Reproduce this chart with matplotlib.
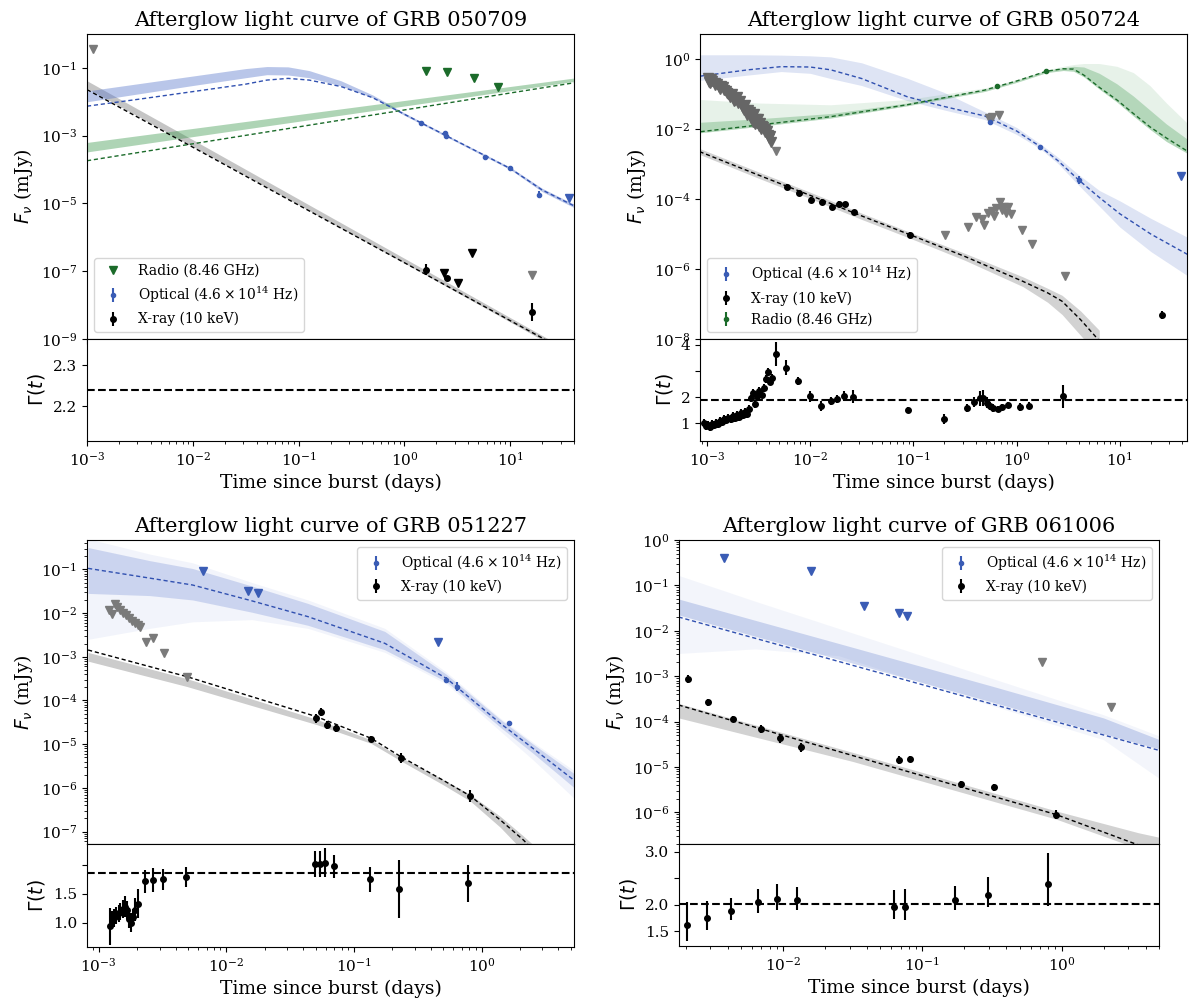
import numpy as np
import matplotlib
matplotlib.use("Agg")
import matplotlib.pyplot as plt
from matplotlib.ticker import FixedLocator, NullLocator, NullFormatter, FormatStrFormatter

plt.rcParams['font.family'] = ['DejaVu Serif']
plt.rcParams['mathtext.fontset'] = 'dejavusans'

BLUE = '#3a5cb5'
BLUE_BAND = '#5a78cc'
GREEN = '#1b6b2a'
GREEN_BAND = '#3f9a50'
GRAY = '#7a7a7a'

# ---------------------------------------------------------------- GRB 050709
p1_title = 'Afterglow light curve of GRB 050709'
p1_radio_ul_t = [1.61, 2.52, 4.56, 7.66]
p1_radio_ul_f = [0.080, 0.078, 0.050, 0.0275]
p1_opt_t = [1.44, 2.42, 2.47, 5.77, 9.84, 18.8]
p1_opt_f = [2.4e-3, 1.2e-3, 9.6e-4, 2.35e-4, 1.11e-4, 1.82e-5]
p1_opt_err = [0.03, 0.05, 0.05, 0.03, 0.03, 0.10]
p1_opt_ul_t = [35.6]
p1_opt_ul_f = [1.48e-5]
p1_xray_t = [1.61, 2.50, 16.2]
p1_xray_f = [1.1e-7, 6.3e-8, 6.2e-9]
p1_xray_err = [0.16, 0.04, 0.26]
p1_xray_ul_t = [2.38, 3.24, 4.34]
p1_xray_ul_f = [8.9e-8, 4.5e-8, 3.44e-7]
p1_other_ul_t = [1.13e-3, 16.2]
p1_other_ul_f = [0.35, 7.9e-8]
p1_yticks = [1e-9, 1e-7, 1e-5, 1e-3, 1e-1]
# models (log10 t, log10 F)
p1_x_lt = [-3.0, -2.0, -1.0, 0.0, 1.0, 1.602]
p1_x_best = [-1.64, -3.34, -5.05, -6.75, -8.46, -9.48]
p1_x_hi = [-1.38, -3.12, -4.87, -6.62, -8.37, -9.42]
p1_x_lo = [-1.60, -3.32, -5.04, -6.76, -8.50, -9.55]
p1_o_lt = [-3.0, -2.5, -2.0, -1.5, -1.3, -1.1, -0.9, -0.6, -0.3, 0.0, 0.5, 1.0, 1.3, 1.602]
p1_o_best = [-2.13, -1.92, -1.70, -1.48, -1.36, -1.31, -1.36, -1.55, -1.88, -2.37, -3.17, -3.97, -4.60, -5.07]
p1_o_hi = [-1.68, -1.46, -1.24, -1.02, -0.96, -0.97, -1.08, -1.38, -1.80, -2.33, -3.14, -3.93, -4.55, -5.02]
p1_o_lo = [-2.00, -1.76, -1.52, -1.29, -1.20, -1.21, -1.29, -1.53, -1.88, -2.40, -3.20, -4.00, -4.65, -5.12]
p1_r_lt = [-3.0, 1.602]
p1_r_best = [-3.74, -1.44]
p1_r_hi = [-3.20, -1.30]
p1_r_lo = [-3.48, -1.40]
p1_gamma = 2.24

# ---------------------------------------------------------------- GRB 050724
p2_title = 'Afterglow light curve of GRB 050724'
p2_cloud_lt = [-2.990, -2.972, -2.946, -2.916, -2.886, -2.860, -2.834, -2.804, -2.774,
               -2.748, -2.722, -2.693, -2.663, -2.637, -2.611, -2.589, -2.570, -2.551,
               -2.536, -2.514, -2.495, -2.477, -2.451, -2.432, -2.410, -2.395, -2.376,
               -2.980, -2.955, -2.925, -2.900, -2.870, -2.845, -2.815, -2.790, -2.760,
               -2.735, -2.705, -2.680, -2.650, -2.625, -2.600, -2.580, -2.560, -2.545,
               -2.525, -2.505, -2.485, -2.465, -2.440, -2.420, -2.385]
p2_cloud_lf = [-0.543, -0.686, -0.610, -0.733, -0.800, -0.762, -0.876, -0.952, -1.067,
               -1.114, -1.162, -1.257, -1.333, -1.448, -1.590, -1.543, -1.686, -1.781,
               -1.848, -1.810, -1.905, -2.000, -1.943, -2.067, -2.162, -2.257, -2.352,
               -0.640, -0.560, -0.690, -0.700, -0.860, -0.780, -0.900, -1.000, -0.990,
               -1.200, -1.080, -1.200, -1.380, -1.300, -1.450, -1.500, -1.620, -1.560,
               -1.720, -1.700, -1.820, -1.900, -1.990, -2.050, -2.200]
p2_other_ul_lt = [-2.328, -0.690, -0.467, -0.392, -0.336, -0.317, -0.273, -0.243, -0.217,
                  -0.198, -0.161, -0.142, -0.124, -0.105, -0.079, -0.057, 0.055, 0.144,
                  0.472, -0.265, -0.243, -0.168]
p2_other_ul_lf = [-2.619, -5.038, -4.810, -4.514, -4.562, -4.733, -4.400, -4.333, -4.495,
                  -4.257, -4.067, -4.305, -4.210, -4.400, -4.229, -4.419, -4.876, -5.276,
                  -6.190, -1.686, -1.638, -1.590]
p2_opt_lt = [-0.255, 0.230, 0.602]
p2_opt_lf = [-1.781, -2.495, -3.448]
p2_opt_err = [0.05, 0.05, 0.12]
p2_opt_ul_lt = [1.589]
p2_opt_ul_lf = [-3.324]
p2_radio_lt = [-0.187, 0.286]
p2_radio_lf = [-0.752, -0.324]
p2_radio_err = [0.05, 0.03]
p2_xray_lt = [-2.220, -2.108, -1.993, -1.885, -1.792, -1.724, -1.661, -1.576, -1.028, 1.410]
p2_xray_lf = [-3.638, -3.829, -4.019, -4.076, -4.210, -4.133, -4.152, -4.371, -5.019, -7.305]
p2_xray_err = [0.06, 0.06, 0.08, 0.07, 0.08, 0.08, 0.08, 0.06, 0.08, 0.12]
p2_yticks = [1e-8, 1e-6, 1e-4, 1e-2, 1e0]
p2_x_lt = [-3.07, -2.5, -2.0, -1.5, -1.03, -0.5, 0.06, 0.30, 0.44, 0.62, 0.80]
p2_x_best = [-2.64, -3.31, -3.89, -4.48, -5.02, -5.64, -6.35, -6.68, -6.92, -7.45, -8.05]
p2_x_hi = [-2.55, -3.22, -3.80, -4.40, -4.95, -5.55, -6.22, -6.55, -6.75, -7.20, -7.75]
p2_x_lo = [-2.72, -3.40, -3.98, -4.58, -5.12, -5.75, -6.50, -6.95, -7.30, -7.90, -8.50]
p2_o_lt = [-3.06, -2.6, -2.28, -2.0, -1.8, -1.5, -1.06, -0.7, -0.31, 0.0, 0.23, 0.40, 0.60, 0.80, 1.0, 1.3, 1.66]
p2_o_best = [-0.48, -0.30, -0.21, -0.22, -0.30, -0.55, -1.07, -1.35, -1.62, -2.05, -2.50, -2.90, -3.45, -3.95, -4.42, -5.00, -5.59]
p2_o_hi = [0.13, 0.13, 0.12, 0.10, 0.07, -0.10, -0.54, -0.95, -1.50, -1.95, -2.42, -2.80, -3.30, -3.75, -4.05, -4.55, -5.10]
p2_o_lo = [-0.60, -0.45, -0.35, -0.40, -0.55, -0.75, -1.18, -1.45, -1.72, -2.15, -2.56, -2.98, -3.60, -4.20, -4.80, -5.50, -6.20]
p2_r_lt = [-3.06, -2.5, -1.8, -1.06, -0.31, 0.0, 0.29, 0.45, 0.55, 0.65, 0.80, 0.97, 1.13, 1.29, 1.45, 1.66]
p2_r_best = [-2.07, -1.88, -1.64, -1.30, -0.88, -0.62, -0.34, -0.27, -0.28, -0.45, -0.80, -1.16, -1.55, -1.93, -2.25, -2.64]
p2_r_hi = [-1.15, -1.25, -1.30, -1.15, -0.82, -0.58, -0.30, -0.20, -0.15, -0.12, -0.12, -0.20, -0.38, -0.75, -1.25, -1.85]
p2_r_lo = [-2.10, -1.92, -1.68, -1.33, -0.92, -0.66, -0.38, -0.32, -0.34, -0.50, -0.85, -1.22, -1.62, -2.00, -2.35, -2.70]
p2_r_chi = [-1.80, -1.70, -1.55, -1.25, -0.86, -0.60, -0.32, -0.24, -0.20, -0.22, -0.40, -0.70, -1.05, -1.45, -1.85, -2.30]
p2_g_lt = [-3.03, -3.01, -2.99, -2.97, -2.95, -2.93, -2.91, -2.89, -2.87, -2.85, -2.83, -2.81,
           -2.79, -2.77, -2.75, -2.73, -2.71, -2.69, -2.67, -2.65, -2.63, -2.61, -2.59, -2.57,
           -2.55, -2.53, -2.51, -2.49, -2.47, -2.45, -2.43, -2.41, -2.39, -2.37,
           -2.332, -2.229, -2.116, -2.003, -1.897, -1.800, -1.739, -1.671, -1.584, -1.048,
           -0.703, -0.484, -0.413, -0.355, -0.329, -0.284, -0.258, -0.226, -0.177, -0.145,
           -0.081, 0.032, 0.123, 0.452]
p2_g = [1.00, 0.88, 0.95, 0.85, 0.98, 0.92, 1.02, 0.97, 1.10, 1.05, 1.18, 1.12,
        1.22, 1.15, 1.28, 1.20, 1.32, 1.25, 1.38, 1.30, 1.42, 1.35, 1.55, 1.95,
        2.15, 1.75, 2.05, 2.25, 2.10, 2.35, 2.70, 2.95, 2.60, 2.75,
        3.66, 3.13, 2.61, 2.03, 1.66, 1.84, 1.92, 2.04, 2.01, 1.50,
        1.16, 1.59, 1.82, 1.95, 1.97, 1.79, 1.66, 1.58, 1.55, 1.62,
        1.71, 1.62, 1.68, 2.03]
p2_g_err = [0.15] * 34 + [0.45, 0.28, 0.15, 0.22, 0.20, 0.15, 0.15, 0.20, 0.25, 0.12,
                          0.20, 0.15, 0.20, 0.30, 0.30, 0.20, 0.15, 0.15, 0.12, 0.12,
                          0.12, 0.15, 0.15, 0.45]
p2_gamma = 1.88

# ---------------------------------------------------------------- GRB 051227
p3_title = 'Afterglow light curve of GRB 051227'
p3_opt_ul_lt = [-2.183, -1.827, -1.751, -0.342]
p3_opt_ul_lf = [-1.030, -1.495, -1.549, -2.654]
p3_opt_lt = [-0.276, -0.191, 0.212]
p3_opt_lf = [-3.530, -3.683, -4.521]
p3_opt_err = [0.06, 0.10, 0.05]
p3_other_ul_lt = [-2.917, -2.896, -2.872, -2.857, -2.836, -2.812, -2.788, -2.764, -2.740,
                  -2.716, -2.694, -2.679, -2.631, -2.571, -2.490, -2.309]
p3_other_ul_lf = [-1.930, -2.021, -1.793, -1.869, -1.930, -1.991, -2.052, -2.113, -2.174,
                  -2.235, -2.280, -2.311, -2.654, -2.578, -2.921, -3.454]
p3_xray_lt = [-1.294, -1.255, -1.213, -1.143, -0.866, -0.634, -0.089]
p3_xray_lf = [-4.407, -4.255, -4.559, -4.636, -4.887, -5.322, -6.183]
p3_xray_err = [0.10, 0.09, 0.10, 0.08, 0.07, 0.12, 0.14]
p3_o_lt = [-3.083, -2.6, -2.264, -1.8, -1.360, -0.758, -0.276, 0.146, 0.4, 0.748]
p3_o_best = [-0.977, -1.20, -1.358, -1.72, -2.082, -2.692, -3.492, -4.521, -5.09, -5.878]
p3_o_hi = [-0.50, -0.80, -0.98, -1.38, -1.78, -2.42, -3.40, -4.43, -4.99, -5.72]
p3_o_lo = [-1.55, -1.60, -1.70, -1.98, -2.28, -2.84, -3.57, -4.61, -5.20, -6.05]
p3_o_ohi = [-0.30, -0.65, -0.85, -1.30, -1.70, -2.35, -3.35, -4.40, -4.95, -5.65]
p3_o_olo = [-2.60, -2.35, -2.20, -2.15, -2.35, -2.90, -3.62, -4.70, -5.35, -6.30]
p3_x_lt = [-3.083, -2.309, -1.294, -0.866, -0.634, -0.306, -0.089, 0.146, 0.327, 0.5]
p3_x_best = [-2.845, -3.454, -4.369, -4.864, -5.283, -5.817, -6.183, -6.732, -7.19, -7.70]
p3_x_hi = [-2.90, -3.50, -4.43, -4.90, -5.30, -5.80, -6.15, -6.65, -7.10, -7.55]
p3_x_lo = [-3.10, -3.68, -4.55, -4.98, -5.38, -5.92, -6.30, -6.90, -7.45, -8.00]
p3_g_lt = [-2.914, -2.896, -2.877, -2.862, -2.843, -2.830, -2.812, -2.796, -2.778, -2.762,
           -2.747, -2.731, -2.713, -2.695, -2.634, -2.577, -2.499, -2.319, -1.305, -1.269,
           -1.227, -1.157, -0.877, -0.650, -0.107]
p3_g = [0.94, 1.05, 1.08, 1.12, 1.16, 1.19, 1.24, 1.28, 1.22, 1.06,
        1.00, 1.09, 1.22, 1.33, 1.72, 1.74, 1.75, 1.79, 2.02, 2.02,
        2.04, 1.98, 1.75, 1.58, 1.68]
p3_g_err = [0.32, 0.16, 0.16, 0.15, 0.15, 0.15, 0.16, 0.18, 0.16, 0.15,
            0.16, 0.15, 0.20, 0.25, 0.20, 0.20, 0.18, 0.17, 0.23, 0.22,
            0.25, 0.20, 0.21, 0.50, 0.32]
p3_gamma = 1.87

# ---------------------------------------------------------------- GRB 061006
p4_title = 'Afterglow light curve of GRB 061006'
p4_opt_ul_lt = [-2.427, -1.800, -1.422, -1.168, -1.113]
p4_opt_ul_lf = [-0.402, -0.673, -1.456, -1.602, -1.668]
p4_other_ul_lt = [-0.141, 0.351]
p4_other_ul_lf = [-2.685, -3.687]
p4_xray_lt = [-2.683, -2.537, -2.357, -2.161, -2.020, -1.874, -1.168, -1.088, -0.720, -0.485, -0.041]
p4_xray_lf = [-3.065, -3.577, -3.943, -4.162, -4.374, -4.572, -4.857, -4.828, -5.384, -5.450, -6.050]
p4_xray_err = [0.08, 0.08, 0.07, 0.08, 0.09, 0.09, 0.09, 0.07, 0.07, 0.08, 0.09]
p4_o_lt = [-2.75, -2.2, -1.6, -0.5, 0.3, 0.77]
p4_o_best = [-1.697, -2.166, -2.677, -3.614, -4.296, -4.696]
p4_o_hi = [-1.30, -1.77, -2.28, -3.22, -3.92, -4.48]
p4_o_lo = [-1.65, -2.12, -2.63, -3.57, -4.27, -4.66]
p4_o_ohi = [-0.78, -1.35, -1.95, -3.05, -3.85, -4.40]
p4_o_olo = [-2.50, -2.40, -2.55, -3.65, -4.40, -5.40]
p4_x_lt = [-2.75, -1.5, -0.04, 0.55, 0.70]
p4_x_best = [-3.636, -4.75, -6.05, -6.72, -6.95]
p4_x_hi = [-3.60, -4.68, -5.97, -6.45, -6.55]
p4_x_lo = [-3.92, -4.88, -6.15, -6.80, -7.00]
p4_g_lt = [-2.689, -2.545, -2.371, -2.177, -2.043, -1.897, -1.201, -1.122, -0.763, -0.529, -0.098]
p4_g = [1.62, 1.74, 1.88, 2.04, 2.11, 2.08, 1.96, 1.95, 2.08, 2.19, 2.39]
p4_g_lo = [0.30, 0.22, 0.17, 0.19, 0.22, 0.19, 0.23, 0.25, 0.18, 0.24, 0.42]
p4_g_hi = [0.43, 0.33, 0.24, 0.25, 0.28, 0.26, 0.31, 0.34, 0.27, 0.34, 0.59]
p4_gamma = 2.01

OPT_LABEL = r'Optical ($\mathdefault{4.6\times10^{14}}$ Hz)'
XRAY_LABEL = 'X-ray (10 keV)'
RADIO_LABEL = 'Radio (8.46 GHz)'

TICK_FS = 11
LABEL_FS = 13.5
TITLE_FS = 15
LEGEND_FS = 10

fig = plt.figure(figsize=(12, 10.08), dpi=100)
W, H = 1200.0, 1008.0


def axes_pair(left, right, top, mid, bottom):
    axm = fig.add_axes([left / W, 1 - mid / H, (right - left) / W, (mid - top) / H])
    axg = fig.add_axes([left / W, 1 - bottom / H, (right - left) / W, (bottom - mid) / H], sharex=axm)
    axm.set_xscale('log')
    axm.set_yscale('log')
    axm.tick_params(labelbottom=False, labelsize=TICK_FS)
    axm.yaxis.set_minor_formatter(NullFormatter())
    axg.tick_params(labelsize=TICK_FS)
    axg.tick_params(axis='y', which='minor', length=3.5, width=0.8)
    axg.yaxis.set_minor_formatter(NullFormatter())
    axm.set_ylabel(r'$F_\nu$ (mJy)', fontsize=LABEL_FS)
    axg.set_ylabel(r'$\Gamma(t)$', fontsize=LABEL_FS)
    axg.set_xlabel('Time since burst (days)', fontsize=LABEL_FS)
    return axm, axg


def L(a):
    return 10 ** np.asarray(a, dtype=float)


def model(ax, lt, best, hi, lo, color, band, alpha=0.4, ohi=None, olo=None, oalpha=0.12):
    t = L(lt)
    if ohi is not None:
        ax.fill_between(t, L(olo), L(ohi), color=band, alpha=oalpha, lw=0)
    ax.fill_between(t, L(lo), L(hi), color=band, alpha=alpha, lw=0)
    ax.plot(t, L(best), ls='--', color=color, lw=1.0, dashes=(3, 2))


def ul(ax, t, f, color, ms=5.5):
    return ax.plot(t, f, ls='none', marker='v', ms=ms, color=color)[0]


def pts(ax, t, f, dex, color, ms=4):
    t = np.asarray(t, float)
    f = np.asarray(f, float)
    d = np.asarray(dex, float)
    yerr = [f - f * 10 ** (-d), f * 10 ** d - f]
    return ax.errorbar(t, f, yerr=yerr, fmt='o', ms=ms, color=color, elinewidth=1.5, capsize=0)


def gamma_pts(ax, lt, g, lo, hi):
    ax.errorbar(L(lt), g, yerr=[lo, hi], fmt='o', ms=4, color='black', elinewidth=1.5, capsize=0)


def gamma_ticks(ax, major, minor):
    ax.yaxis.set_major_locator(FixedLocator(major))
    ax.yaxis.set_minor_locator(FixedLocator(minor))


# ---- panel 1
a1, g1 = axes_pair(87, 574, 34, 339, 441)
model(a1, p1_x_lt, p1_x_best, p1_x_hi, p1_x_lo, 'black', 'gray', alpha=0.45)
model(a1, p1_o_lt, p1_o_best, p1_o_hi, p1_o_lo, '#3050b0', BLUE_BAND, alpha=0.42)
model(a1, p1_r_lt, p1_r_best, p1_r_hi, p1_r_lo, GREEN, GREEN_BAND, alpha=0.42)
h_r = ul(a1, p1_radio_ul_t, p1_radio_ul_f, GREEN)
h_o = pts(a1, p1_opt_t, p1_opt_f, p1_opt_err, BLUE, ms=3)
ul(a1, p1_opt_ul_t, p1_opt_ul_f, BLUE)
h_x = pts(a1, p1_xray_t, p1_xray_f, p1_xray_err, 'black')
ul(a1, p1_xray_ul_t, p1_xray_ul_f, 'black')
ul(a1, p1_other_ul_t, p1_other_ul_f, GRAY)
a1.set_xlim(1e-3, 40)
a1.set_ylim(1e-9, 1.0)
a1.yaxis.set_major_locator(FixedLocator(p1_yticks))
a1.yaxis.set_minor_locator(NullLocator())
a1.legend([h_r, h_o, h_x], [RADIO_LABEL, OPT_LABEL, XRAY_LABEL], loc='lower left', fontsize=LEGEND_FS)
a1.set_title(p1_title, fontsize=TITLE_FS)
g1.axhline(p1_gamma, color='black', ls='--', lw=1.5)
g1.set_ylim(2.115, 2.364)
gamma_ticks(g1, [2.2, 2.3], [])

# ---- panel 2
a2, g2 = axes_pair(700, 1187, 34, 339, 441)
model(a2, p2_x_lt, p2_x_best, p2_x_hi, p2_x_lo, 'black', 'gray', alpha=0.35)
model(a2, p2_o_lt, p2_o_best, p2_o_hi, p2_o_lo, '#3050b0', BLUE_BAND, alpha=0.2)
model(a2, p2_r_lt, p2_r_best, p2_r_chi, p2_r_lo, GREEN, GREEN_BAND, alpha=0.3,
      ohi=p2_r_hi, olo=p2_r_lo, oalpha=0.12)
ul(a2, L(p2_cloud_lt), L(p2_cloud_lf), '#666666', ms=7)
ul(a2, L(p2_other_ul_lt), L(p2_other_ul_lf), GRAY)
h_o = pts(a2, L(p2_opt_lt), L(p2_opt_lf), p2_opt_err, BLUE, ms=3)
ul(a2, L(p2_opt_ul_lt), L(p2_opt_ul_lf), BLUE)
h_r = pts(a2, L(p2_radio_lt), L(p2_radio_lf), p2_radio_err, GREEN, ms=3)
h_x = pts(a2, L(p2_xray_lt), L(p2_xray_lf), p2_xray_err, 'black')
a2.set_xlim(8.6e-4, 44.6)
a2.set_ylim(1e-8, 5.3)
a2.yaxis.set_major_locator(FixedLocator(p2_yticks))
a2.yaxis.set_minor_locator(NullLocator())
a2.legend([h_o, h_x, h_r], [OPT_LABEL, XRAY_LABEL, RADIO_LABEL], loc='lower left', fontsize=LEGEND_FS)
a2.set_title(p2_title, fontsize=TITLE_FS)
gamma_pts(g2, p2_g_lt, p2_g, p2_g_err, p2_g_err)
g2.axhline(p2_gamma, color='black', ls='--', lw=1.5)
g2.set_ylim(0.32, 4.23)
gamma_ticks(g2, [1, 2, 4], [3])

# ---- panel 3
a3, g3 = axes_pair(87, 574, 540, 844, 947)
model(a3, p3_x_lt, p3_x_best, p3_x_hi, p3_x_lo, 'black', 'gray', alpha=0.4)
model(a3, p3_o_lt, p3_o_best, p3_o_hi, p3_o_lo, '#3050b0', BLUE_BAND, alpha=0.25,
      ohi=p3_o_ohi, olo=p3_o_olo, oalpha=0.08)
ul(a3, L(p3_opt_ul_lt), L(p3_opt_ul_lf), BLUE)
ul(a3, L(p3_other_ul_lt), L(p3_other_ul_lf), GRAY)
h_o = pts(a3, L(p3_opt_lt), L(p3_opt_lf), p3_opt_err, BLUE, ms=3)
h_x = pts(a3, L(p3_xray_lt), L(p3_xray_lf), p3_xray_err, 'black')
a3.set_xlim(8.1e-4, 5.3)
a3.set_ylim(5.2e-8, 0.47)
a3.legend([h_o, h_x], [OPT_LABEL, XRAY_LABEL], loc='upper right', fontsize=LEGEND_FS)
a3.set_title(p3_title, fontsize=TITLE_FS)
gamma_pts(g3, p3_g_lt, p3_g, p3_g_err, p3_g_err)
g3.axhline(p3_gamma, color='black', ls='--', lw=1.5)
g3.set_ylim(0.577, 2.365)
gamma_ticks(g3, [1.0, 1.5], [2.0])
g3.yaxis.set_major_formatter(FormatStrFormatter('%.1f'))

# ---- panel 4
a4, g4 = axes_pair(679, 1159, 540, 844, 946)
model(a4, p4_x_lt, p4_x_best, p4_x_hi, p4_x_lo, 'black', 'gray', alpha=0.35)
model(a4, p4_o_lt, p4_o_best, p4_o_hi, p4_o_lo, '#3050b0', BLUE_BAND, alpha=0.28,
      ohi=p4_o_ohi, olo=p4_o_olo, oalpha=0.07)
ul(a4, L(p4_opt_ul_lt), L(p4_opt_ul_lf), BLUE)
ul(a4, L(p4_other_ul_lt), L(p4_other_ul_lf), GRAY)
h_x = pts(a4, L(p4_xray_lt), L(p4_xray_lf), p4_xray_err, 'black')
h_o = a4.errorbar([], [], yerr=[], fmt='o', ms=3, color=BLUE, elinewidth=1.5, capsize=0)
a4.set_xlim(1.79e-3, 5.0)
a4.set_ylim(2.0e-7, 1.0)
a4.legend([h_o, h_x], [OPT_LABEL, XRAY_LABEL], loc='upper right', fontsize=LEGEND_FS)
a4.set_title(p4_title, fontsize=TITLE_FS)
gamma_pts(g4, p4_g_lt, p4_g, p4_g_lo, p4_g_hi)
g4.axhline(p4_gamma, color='black', ls='--', lw=1.5)
g4.set_ylim(1.217, 3.145)
gamma_ticks(g4, [1.5, 2.0, 3.0], [2.5])
g4.yaxis.set_major_formatter(FormatStrFormatter('%.1f'))

fig.savefig('out.png', dpi=100)
